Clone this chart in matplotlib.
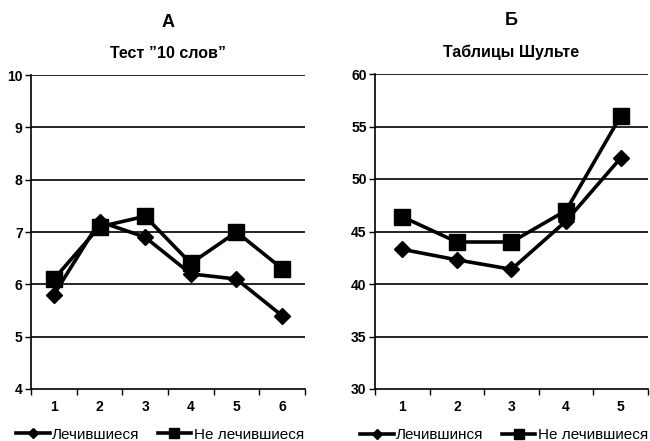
import matplotlib
matplotlib.use("Agg")
import matplotlib.pyplot as plt

plt.rcParams['font.family'] = ['Liberation Sans', 'DejaVu Sans']

# Panel A
a_cats = ["1", "2", "3", "4", "5", "6"]
a_treated = [5.8, 7.2, 6.9, 6.2, 6.1, 5.4]
a_untreated = [6.1, 7.1, 7.3, 6.4, 7.0, 6.3]
a_yticks = [4, 5, 6, 7, 8, 9, 10]

# Panel B
b_cats = ["1", "2", "3", "4", "5"]
b_treated = [43.3, 42.3, 41.4, 46.0, 52.0]
b_untreated = [46.4, 44.0, 44.0, 47.0, 56.0]
b_yticks = [30, 35, 40, 45, 50, 55, 60]

fig = plt.figure(figsize=(6.5, 4.41), dpi=100)

ax1 = fig.add_axes([31/650, 1-389/441, 274/650, 314/441])
ax2 = fig.add_axes([375/650, 1-389/441, 273/650, 315/441])

def draw(ax, cats, s1, s2, yticks, lab1, lab2, big, sub):
    x = list(range(1, len(cats) + 1))
    for yv in yticks[1:]:
        ax.axhline(yv, color='black', lw=1.2, zorder=1)
    ax.plot(x, s1, color='black', lw=2.6, marker='D', markersize=8, label=lab1, zorder=3)
    ax.plot(x, s2, color='black', lw=2.6, marker='s', markersize=11, label=lab2, zorder=3)
    ax.set_xlim(0.5, len(cats) + 0.5)
    ax.set_ylim(yticks[0], yticks[-1])
    ax.set_yticks(yticks)
    ax.set_yticklabels([str(v) for v in yticks], fontsize=10, fontweight='bold')
    ax.set_xticks(x)
    ax.set_xticklabels(cats, fontsize=10, fontweight='bold')
    ax.tick_params(axis='x', length=0, pad=8)
    ax.set_xticks([v + 0.5 for v in range(0, len(cats) + 1)], minor=True)
    ax.tick_params(axis='x', which='minor', length=4, width=1, direction='out')
    ax.tick_params(axis='y', length=4, width=1, direction='out', pad=2)
    for s in ['top', 'right']:
        ax.spines[s].set_visible(False)
    ax.spines['left'].set_linewidth(1.2)
    ax.spines['bottom'].set_linewidth(1.2)
    ax.text(0.5, 1 + 53/314, big, transform=ax.transAxes, ha='center', va='center',
            fontsize=13, fontweight='bold')
    ax.text(0.5, 1 + 22/314, sub, transform=ax.transAxes, ha='center', va='center',
            fontsize=11.5, fontweight='bold')
    leg = ax.legend(loc='center left', bbox_to_anchor=(-0.055, -0.146), ncol=2, frameon=False,
                    fontsize=11, handlelength=2.2, handletextpad=0.15, columnspacing=1.2,
                    borderaxespad=0, borderpad=0, markerscale=0.7)
    return leg

draw(ax1, a_cats, a_treated, a_untreated, a_yticks, "Лечившиеся", "Не лечившиеся",
     "А", "Тест ”10 слов”")
draw(ax2, b_cats, b_treated, b_untreated, b_yticks, "Лечившинся", "Не лечившиеся",
     "Б", "Таблицы Шульте")

fig.savefig("out.png", dpi=100)
